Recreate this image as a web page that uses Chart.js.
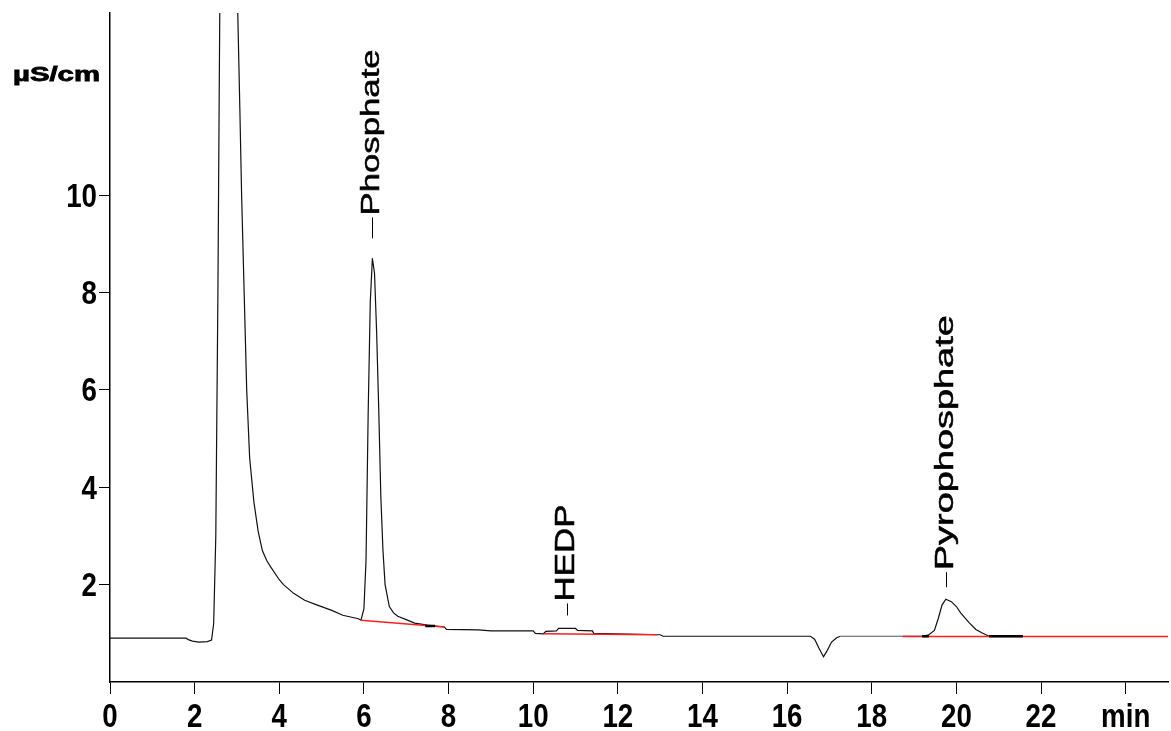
<!DOCTYPE html>
<html>
<head>
<meta charset="utf-8">
<script src="https://cdn.jsdelivr.net/npm/chart.js@4.4.1/dist/chart.umd.min.js"></script>
<style>
    html, body { margin: 0; padding: 0; background: #fff; }
    #wrap { width: 1171px; height: 731px; }
</style>
</head>
<body>
<div id="wrap"><canvas id="chromChart" width="1171" height="731"></canvas></div>
<script>
// Detector trace (time in min, conductivity in µS/cm)
const traceTimes = [0, 1.80, 1.85, 1.95, 2.10, 2.30, 2.40,
    2.45, 2.50, 2.55, 2.58, 2.60, 2.70, 2.80, 2.90, 3.00, 3.02,
    3.07, 3.11, 3.17, 3.23, 3.30, 3.40, 3.50, 3.60, 3.70, 3.80,
    4.00, 4.10, 4.34, 4.60, 4.90, 5.24, 5.50, 5.87, 5.93,
    6.00, 6.05, 6.10, 6.15, 6.20, 6.25, 6.30, 6.35, 6.40, 6.45, 6.50,
    6.60, 6.70, 6.80, 7.00, 7.20, 7.50, 7.90, 7.95, 8.70, 9.00,
    10.00, 10.05, 10.24, 10.30, 10.55, 10.60, 11.00, 11.05, 11.40, 11.43,
    13.00, 13.07, 16.55, 16.65, 16.75, 16.86, 16.95, 17.05, 17.17, 17.26,
    18.73, 19.19, 19.35, 19.48, 19.57, 19.66, 19.75, 19.88, 20.00, 20.10,
    20.30, 20.46, 20.60, 20.77, 21.57];
const traceValues = [0.90, 0.90, 0.87, 0.84, 0.82, 0.83, 0.86,
    1.2, 3.0, 8.0, 12.0, 14.5, 20.0, 23.0, 20.0, 14.2, 13.7,
    11.7, 10.0, 8.0, 6.0, 4.6, 3.7, 3.1, 2.7, 2.5, 2.36,
    2.1, 2.0, 1.82, 1.68, 1.58, 1.47, 1.37, 1.30, 1.27,
    1.5, 2.5, 5.5, 7.8, 8.7, 8.4, 7.2, 5.6, 3.8, 2.7, 2.0,
    1.55, 1.42, 1.35, 1.28, 1.21, 1.17, 1.13, 1.08, 1.07, 1.05,
    1.05, 1.0, 0.99, 1.04, 1.05, 1.10, 1.10, 1.06, 1.05, 1.0,
    0.97, 0.94, 0.94, 0.88, 0.70, 0.52, 0.65, 0.82, 0.91, 0.94,
    0.94, 0.94, 0.97, 1.06, 1.30, 1.58, 1.70, 1.65, 1.55, 1.42,
    1.22, 1.08, 1.01, 0.94, 0.94];

// Integration baselines (red)
const baseStartTimes = [5.93, 10.24, 18.73];
const baseStartValues = [1.27, 0.99, 0.935];
const baseEndTimes = [7.90, 12.93, 25.0];
const baseEndValues = [1.13, 0.97, 0.935];

// Peak start/end marks (thick black)
const markStartTimes = [7.45, 19.19, 20.77];
const markEndTimes = [7.68, 19.35, 21.57];
const markValues = [1.15, 0.94, 0.94];

// Peak annotations
const peakNames = ['Phosphate', 'HEDP', 'Pyrophosphate'];
const peakTimes = [6.20, 10.80, 19.75];
const peakValues = [8.7, 1.10, 1.70];

// Axes
const xTickValues = [0, 2, 4, 6, 8, 10, 12, 14, 16, 18, 20, 22, 24];
const xTickLabels = ['0', '2', '4', '6', '8', '10', '12', '14', '16', '18', '20', '22', 'min'];
const yTickValues = [2, 4, 6, 8, 10];
const unitLabel = 'µS/cm';

// label look: offset from peak, dash length, font size, stretched text length
const labelStyle = [
    { gap: 20, dash: 21, dx: -1, size: 26, length: 166 },
    { gap: 13, dash: 12, dx: -1, size: 28, length: 97 },
    { gap: 12, dash: 15, dx: 0, size: 25, length: 255 }
];

const traceData = traceTimes.map((t, i) => ({ x: t, y: traceValues[i] }));

const baselineData = [];
baseStartTimes.forEach((t, i) => {
    baselineData.push({ x: t, y: baseStartValues[i] });
    baselineData.push({ x: baseEndTimes[i], y: baseEndValues[i] });
    baselineData.push({ x: baseEndTimes[i], y: null });
});

const markData = [];
markStartTimes.forEach((t, i) => {
    markData.push({ x: t, y: markValues[i] });
    markData.push({ x: markEndTimes[i], y: markValues[i] });
    markData.push({ x: markEndTimes[i], y: null });
});

const FONT = '"Liberation Sans", Arial, sans-serif';
const TICK_SQUEEZE = 0.84; // axis digits are condensed in the original

const peakLabelPlugin = {
    id: 'peakLabels',
    afterDraw(chart) {
        const ctx = chart.ctx;
        const xs = chart.scales.x;
        const ys = chart.scales.y;
        ctx.save();
        ctx.fillStyle = '#000';
        ctx.strokeStyle = '#000';

        // peak names with their little dash
        peakNames.forEach((name, i) => {
            const st = labelStyle[i];
            const px = Math.round(xs.getPixelForValue(peakTimes[i])) + 0.5;
            const py = ys.getPixelForValue(peakValues[i]);
            const dashBottom = py - st.gap;
            const dashTop = dashBottom - st.dash;

            ctx.lineWidth = 1;
            ctx.beginPath();
            ctx.moveTo(px, dashBottom);
            ctx.lineTo(px, dashTop);
            ctx.stroke();

            ctx.save();
            ctx.translate(px + st.dx, dashTop - 2);
            ctx.rotate(-Math.PI / 2);
            ctx.font = st.size + 'px ' + FONT;
            const w = ctx.measureText(name).width;
            ctx.scale(st.length / w, 1);
            ctx.textAlign = 'left';
            ctx.textBaseline = 'middle';
            ctx.lineWidth = 0.5;
            ctx.fillText(name, 0, 0);
            ctx.strokeText(name, 0, 0);
            ctx.restore();
        });

        // x tick labels
        ctx.font = 'bold 33px ' + FONT;
        ctx.textAlign = 'center';
        ctx.textBaseline = 'alphabetic';
        xTickValues.forEach((v, i) => {
            const px = xs.getPixelForValue(v);
            ctx.save();
            ctx.translate(px, 727);
            ctx.scale(TICK_SQUEEZE, 1);
            ctx.fillText(xTickLabels[i], 0, 0);
            ctx.restore();
        });

        // y tick labels
        ctx.textAlign = 'right';
        yTickValues.forEach(v => {
            const py = ys.getPixelForValue(v);
            ctx.save();
            ctx.translate(97, py + 11.5);
            ctx.scale(TICK_SQUEEZE, 1);
            ctx.fillText(String(v), 0, 0);
            ctx.restore();
        });

        // unit label, top left
        ctx.save();
        ctx.translate(13, 81);
        ctx.font = 'bold 20px ' + FONT;
        const uw = ctx.measureText(unitLabel).width;
        ctx.scale(87 / uw, 1);
        ctx.textAlign = 'left';
        ctx.lineWidth = 0.8;
        ctx.fillText(unitLabel, 0, 0);
        ctx.strokeText(unitLabel, 0, 0);
        ctx.restore();

        ctx.restore();
    }
};

new Chart(document.getElementById('chromChart'), {
    type: 'line',
    data: {
        datasets: [
            {
                label: 'marks',
                data: markData,
                borderColor: '#000',
                borderWidth: 2.5,
                pointRadius: 0,
                spanGaps: false
            },
            {
                label: 'baseline',
                data: baselineData,
                borderColor: 'rgb(255, 30, 30)',
                borderWidth: 1.5,
                pointRadius: 0,
                spanGaps: false
            },
            {
                label: 'trace',
                data: traceData,
                borderColor: '#111',
                borderWidth: 1.2,
                pointRadius: 0,
                tension: 0,
                segment: {
                    borderColor: c => (c.p0.parsed.x >= 17.26 && c.p1.parsed.x <= 18.73) ? '#555' : undefined
                }
            }
        ]
    },
    options: {
        responsive: false,
        animation: false,
        events: [],
        layout: { padding: { top: 13, right: 3, left: 0, bottom: 0 } },
        plugins: {
            legend: { display: false },
            tooltip: { enabled: false }
        },
        scales: {
            x: {
                type: 'linear',
                min: 0,
                max: 25,
                afterBuildTicks: scale => {
                    scale.ticks = xTickValues.map(v => ({ value: v }));
                },
                afterFit: scale => {
                    scale.height = 49;
                    scale.paddingLeft = 0;
                    scale.paddingRight = 0;
                },
                ticks: { display: false },
                grid: {
                    drawOnChartArea: false,
                    drawTicks: true,
                    tickLength: 12,
                    tickColor: '#000',
                    tickWidth: 1
                },
                border: { color: '#000', width: 1.5 }
            },
            y: {
                type: 'linear',
                min: 0,
                max: 13.74,
                afterBuildTicks: scale => {
                    scale.ticks = yTickValues.map(v => ({ value: v }));
                },
                afterFit: scale => {
                    scale.width = 110;
                    scale.paddingTop = 0;
                    scale.paddingBottom = 0;
                },
                ticks: { display: false },
                grid: {
                    drawOnChartArea: false,
                    drawTicks: true,
                    tickLength: 11,
                    tickColor: '#000',
                    tickWidth: 1
                },
                border: { color: '#000', width: 1.5 }
            }
        }
    },
    plugins: [peakLabelPlugin]
});
</script>
</body>
</html>
